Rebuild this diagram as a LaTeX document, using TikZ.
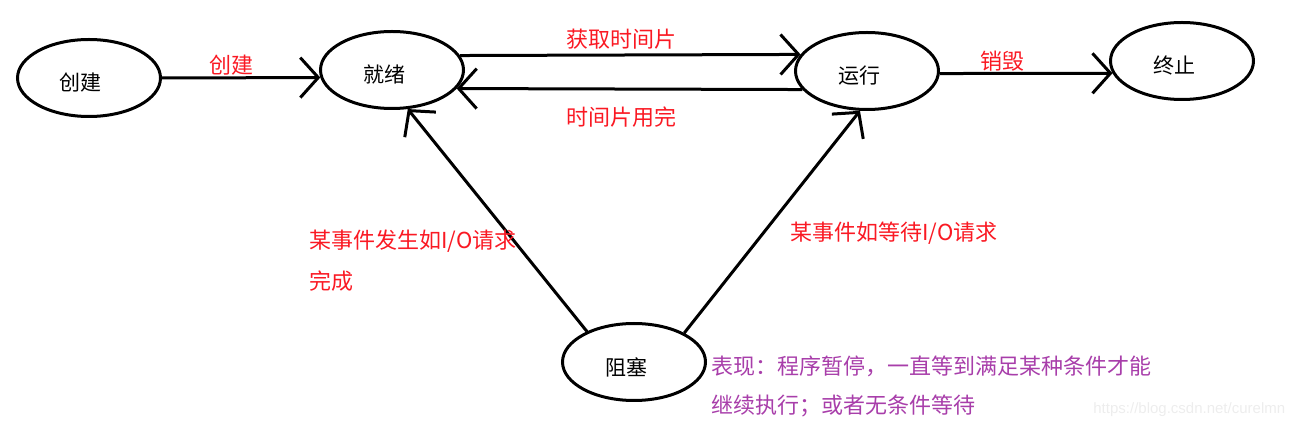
\documentclass[tikz,border=0pt]{standalone}
\usepackage{fontspec}
\setmainfont{Noto Sans CJK SC}
\newfontfamily\wmfont{Liberation Sans}
\usetikzlibrary{shapes.geometric,arrows.meta}
\definecolor{lblred}{RGB}{250,25,35}
\definecolor{lblpurple}{RGB}{168,62,170}

\begin{document}
\begin{tikzpicture}[x=0.5pt,y=-0.5pt,
  state/.style={ellipse, draw, line width=1.5pt, minimum width=71.5pt, minimum height=38.5pt,
    label={[xshift=-4pt,yshift=-2.5pt,font=\fontsize{10.5pt}{12pt}\selectfont]center:#1}},
  arr/.style={line width=1.5pt, -{Straight Barb[length=9pt,width=20pt,line width=1.5pt]}},
  redtxt/.style={text=lblred, inner sep=0pt, font=\fontsize{11pt}{13pt}\selectfont},
  note/.style={text=lblpurple, inner sep=0pt, anchor=west, font=\fontsize{11pt}{13pt}\selectfont}]
\useasboundingbox (0,0) rectangle (1303,427);

% States
\node[state=创建] (chuangjian) at (89,78) {};
\node[state=就绪] (jiuxu) at (392,70) {};
\node[state=运行] (yunxing) at (867,71) {};
\node[state=终止] (zhongzhi) at (1182,61) {};
\node[state=阻塞] (zuse) at (634,362) {};

% Transitions
\draw[arr] (chuangjian.east) -- (jiuxu.186);
\draw[arr] (jiuxu.12) -- (yunxing.166);
\draw[arr] (yunxing.196) -- (jiuxu.-16);
\draw[arr] (yunxing.-2) -- (zhongzhi.190);
\draw[arr] (zuse.147) -- (jiuxu.-68);
\draw[arr] (zuse.30) -- (yunxing.-100);

% Labels
\node[redtxt] (lcreate) at (231,65) {创建};
\node[redtxt] (lget) at (621,39) {获取时间片};
\node[redtxt] (lused) at (621,117) {时间片用完};
\node[redtxt] (ldestroy) at (1002,61) {销毁};
\node[redtxt, anchor=west] (ldone) at (309,241) {某事件发生如I/O请求};
\node[redtxt, anchor=west] (ldone2) at (309,281) {完成};
\node[redtxt, anchor=west] (lwait) at (790,233) {某事件如等待I/O请求};

% Note on blocking
\node[note] (note1) at (711,366) {表现：程序暂停，一直等到满足某种条件才能};
\node[note] (note2) at (711,406) {继续执行；或者无条件等待};

\node[anchor=west, inner sep=0pt, text=gray!14, font=\wmfont\fontsize{7.5pt}{9pt}\selectfont] (mark) at (1093,410) {https://blog.csdn.net/curelmn};
\end{tikzpicture}
\end{document}
